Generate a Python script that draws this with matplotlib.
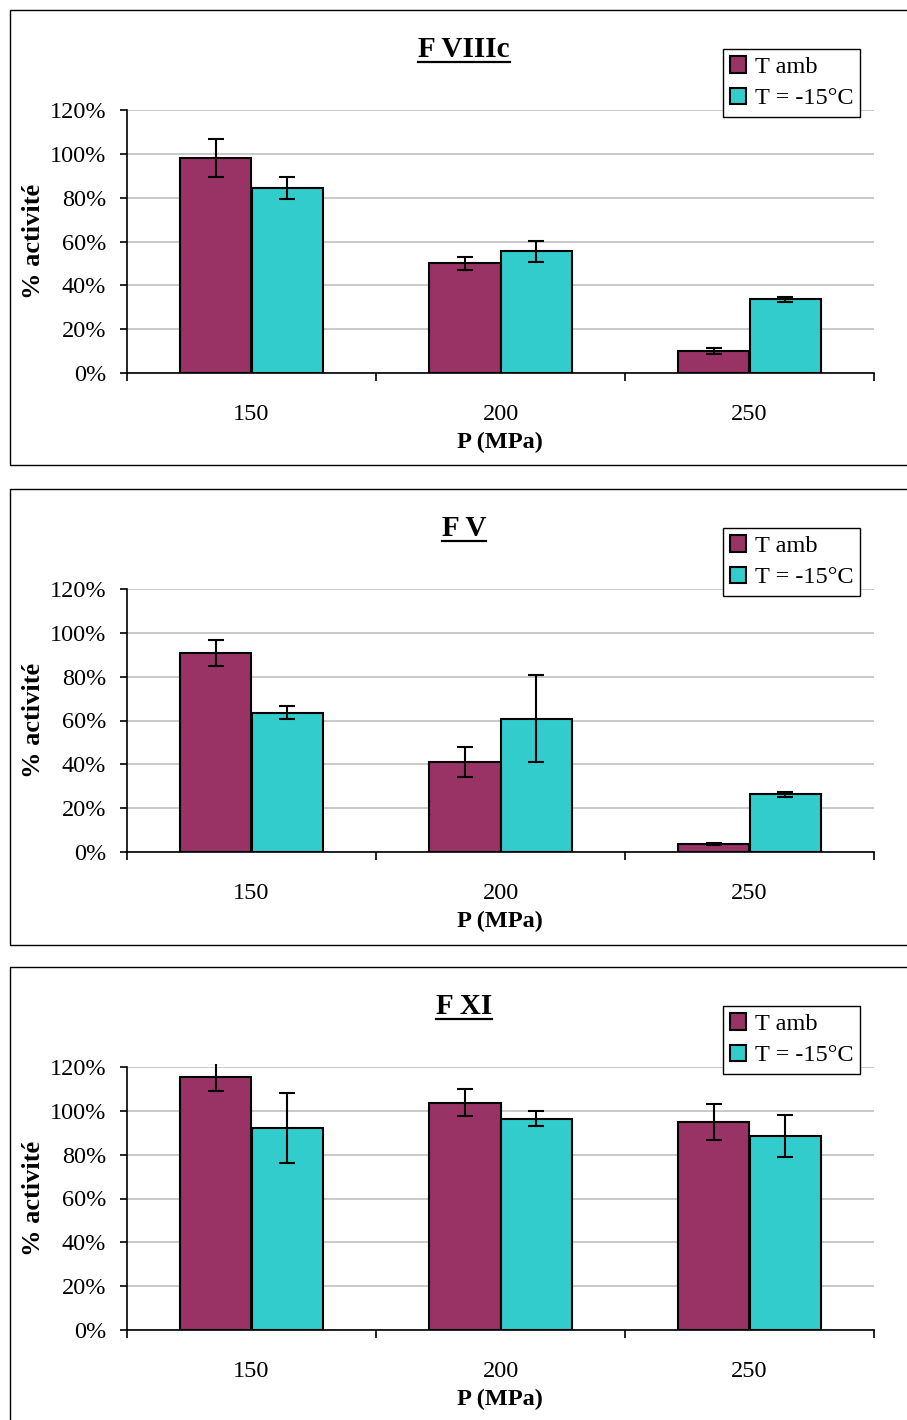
import matplotlib
matplotlib.use('Agg')
import matplotlib.pyplot as plt
from matplotlib.patches import Rectangle, Patch
from matplotlib.lines import Line2D
from matplotlib.ticker import FuncFormatter

plt.rcParams['font.family'] = ['Liberation Serif', 'DejaVu Serif']

pressures = ['150', '200', '250']
titles = ['F VIIIc', 'F V', 'F XI']
series_labels = ['T amb', 'T = -15°C']

fviii_amb = [0.982, 0.500, 0.102]
fviii_amb_err = [0.087, 0.029, 0.014]
fviii_cold = [0.845, 0.555, 0.336]
fviii_cold_err = [0.051, 0.047, 0.010]

fv_amb = [0.909, 0.409, 0.036]
fv_amb_err = [0.060, 0.068, 0.005]
fv_cold = [0.636, 0.609, 0.264]
fv_cold_err = [0.028, 0.200, 0.011]

fxi_amb = [1.155, 1.038, 0.947]
fxi_amb_err = [0.065, 0.060, 0.082]
fxi_cold = [0.920, 0.965, 0.884]
fxi_cold_err = [0.160, 0.033, 0.095]

panels = [
    (fviii_amb, fviii_amb_err, fviii_cold, fviii_cold_err),
    (fv_amb, fv_amb_err, fv_cold, fv_cold_err),
    (fxi_amb, fxi_amb_err, fxi_cold, fxi_cold_err),
]

col_amb = '#993366'
col_cold = '#33CCCC'

W, H = 907, 1420
fig = plt.figure(figsize=(W / 100, H / 100), dpi=100)


def fx(px):
    return px / W


def fy(py):
    return 1 - py / H


box_tops = [10, 489, 967]
box_bottoms = [465, 945, 1500]
bw = 0.288

for k, (amb, amb_err, cold, cold_err) in enumerate(panels):
    top = box_tops[k]
    # panel frame
    fig.add_artist(Rectangle((fx(9.5), fy(box_bottoms[k])), fx(1000), fy(top) - fy(box_bottoms[k]),
                             transform=fig.transFigure, fill=False, edgecolor='black', lw=1.0))

    ax_top = top + 100
    ax_bot = top + 363
    ax = fig.add_axes([fx(127), fy(ax_bot), fx(874) - fx(127), fy(ax_top) - fy(ax_bot)])
    x = [i + 0.5 for i in range(len(pressures))]
    ax.bar([v - bw / 2 for v in x], amb, bw, color=col_amb, edgecolor='black', lw=1.5, zorder=3)
    ax.bar([v + bw / 2 for v in x], cold, bw, color=col_cold, edgecolor='black', lw=1.5, zorder=3)

    # error bars are clipped a little above the plot area, like the original
    clip = Rectangle((0, -0.05), 1, 1.06, transform=ax.transAxes, visible=False)
    ax.add_patch(clip)
    for xs, ys, es in [([v - bw / 2 for v in x], amb, amb_err),
                       ([v + bw / 2 for v in x], cold, cold_err)]:
        eb = ax.errorbar(xs, ys, yerr=es, fmt='none', ecolor='black',
                         elinewidth=1.5, capsize=5.5, capthick=1.5, zorder=4)
        for art in eb.lines[1] + eb.lines[2]:
            art.set_clip_path(clip)

    ax.set_xlim(0, 3)
    ax.set_ylim(0, 1.2)
    ax.set_yticks([0, 0.2, 0.4, 0.6, 0.8, 1.0, 1.2])
    ax.yaxis.set_major_formatter(FuncFormatter(lambda v, p: f'{v * 100:.0f}%'))
    ax.grid(axis='y', color='#C0C0C0', lw=1.2, zorder=0)
    ax.set_axisbelow(True)
    for s in ['top', 'right']:
        ax.spines[s].set_visible(False)
    ax.spines['left'].set_linewidth(1.2)
    ax.spines['bottom'].set_linewidth(1.2)

    ax.set_xticks([0, 1, 2, 3])
    ax.set_xticklabels([])
    ax.set_xticks(x, minor=True)
    ax.set_xticklabels(pressures, minor=True)
    ax.tick_params(axis='x', which='major', direction='out', length=6, width=1.2)
    ax.tick_params(axis='x', which='minor', length=0, pad=22, labelsize=17.5)
    ax.tick_params(axis='y', direction='out', length=5, width=1.2, pad=10, labelsize=17.5)

    # title with underline
    t = fig.text(fx(464), fy(top + 47), titles[k], ha='center', va='baseline',
                 fontsize=21, fontweight='bold')
    fig.canvas.draw()
    bb = t.get_window_extent()
    uy = bb.y0 + (bb.y1 - bb.y0) * 0.17
    fig.add_artist(Line2D([bb.x0 / W, bb.x1 / W], [uy / H - 3.5 / H] * 2,
                          transform=fig.transFigure, color='black', lw=1.6))

    fig.text(fx(33), fy((ax_top + ax_bot) / 2), '% activité', rotation=90, ha='center',
             va='center', fontsize=19, fontweight='bold')
    fig.text(fx(500), fy(top + 432), 'P (MPa)', ha='center', va='center',
             fontsize=17.5, fontweight='bold')

    handles = [Patch(facecolor=col_amb, edgecolor='black', lw=1.5),
               Patch(facecolor=col_cold, edgecolor='black', lw=1.5)]
    leg = fig.legend(handles, series_labels, loc='upper left',
                     bbox_to_anchor=(fx(723), fy(top + 39)), fontsize=17.5,
                     frameon=True, fancybox=False, edgecolor='black', framealpha=1,
                     handlelength=0.65, handleheight=0.65, handletextpad=0.35,
                     borderpad=0.3, labelspacing=0.4, borderaxespad=0)
    leg.get_frame().set_linewidth(1.0)

fig.savefig('out.png', dpi=100)
